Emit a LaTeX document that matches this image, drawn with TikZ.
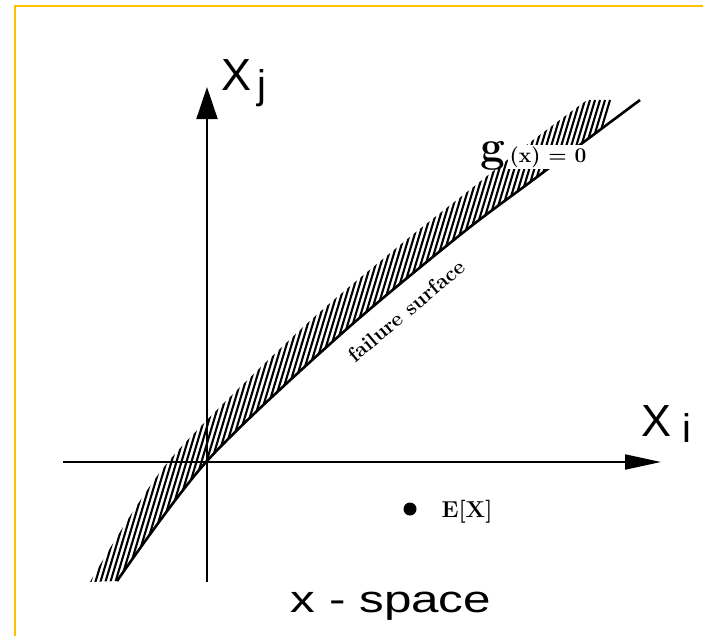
\documentclass[tikz,border=0pt]{standalone}
\usepackage{fontspec}
\usetikzlibrary{arrows.meta}
\newfontfamily\handfont{Liberation Sans}
\definecolor{frameyellow}{RGB}{255,192,0}
\begin{document}
\begin{tikzpicture}[x=1pt,y=-1pt,
  axis/.style={line width=2pt},
  hatchline/.style={line width=2.1pt},
  edgeline/.style={line width=2.6pt},
  handlbl/.style={inner sep=0pt, font=\handfont\fontsize{45}{45}\selectfont},
  sublbl/.style={inner sep=0pt, font=\handfont\fontsize{40}{40}\selectfont},
  printlbl/.style={inner sep=0pt, font=\bfseries\fontsize{21}{21}\selectfont},
]
\useasboundingbox (0,0) rectangle (703,635);
\fill[white] (0,0) rectangle (703,635);
\draw[frameyellow, line width=2.8pt] (15,636) -- (15,6) -- (704,6);

% hatched band (failure surface)
\begin{scope}
  \clip (0,97) rectangle (703,581);
  \clip plot[smooth] coordinates {(117,581) (207,461) (340,335) (460,235) (533,180) (640,100)}
     -- plot[smooth] coordinates {(625,75) (583,103) (520,150) (467,192) (400,245) (300,330) (168,462) (90,582)} -- cycle;
  \foreach \i in {0,...,80} \draw[hatchline] ({60+5*\i},600) -- ++(150,-500);
\end{scope}
\draw[edgeline] plot[smooth] coordinates {(117,581) (207,461) (340,335) (460,235) (533,180) (640,100)};

% axes
\coordinate (xl) at (63,462);
\coordinate (xr) at (661,462);
\coordinate (yb) at (207,582);
\coordinate (yt) at (207,87);
\draw[axis, -{Triangle[length=36pt,width=15pt]}] (xl) -- (xr);
\draw[axis, -{Triangle[length=32pt,width=21pt]}] (yb) -- (yt);

% axis labels
\node[handlbl] (Xj) at (237,75) {X};
\node[sublbl] (jj) at (262,88) {j};
\node[handlbl] (Xi) at (656,421) {X};
\node[sublbl] (ii) at (687,428) {i};

% limit state label
\node[inner sep=0pt, font=\bfseries\fontsize{44}{44}\selectfont] (g) at (493,156) {g};
\node[printlbl, fill=white, inner sep=1.5pt] (gx) at (548,157) {(x) = 0};

% failure surface label
\node[printlbl, rotate=40] (fs) at (406,311) {failure surface};

% mean point
\node[circle, fill=black, inner sep=0pt, minimum size=13pt] (EXdot) at (410,509) {};
\node[inner sep=0pt, font=\bfseries\fontsize{23}{23}\selectfont] (EX) at (467,512) {E[X]};

% caption
\node[inner sep=0pt, font=\handfont\fontsize{38}{38}\selectfont, xscale=1.3] (xs) at (391,606) {x - space};
\end{tikzpicture}
\end{document}
